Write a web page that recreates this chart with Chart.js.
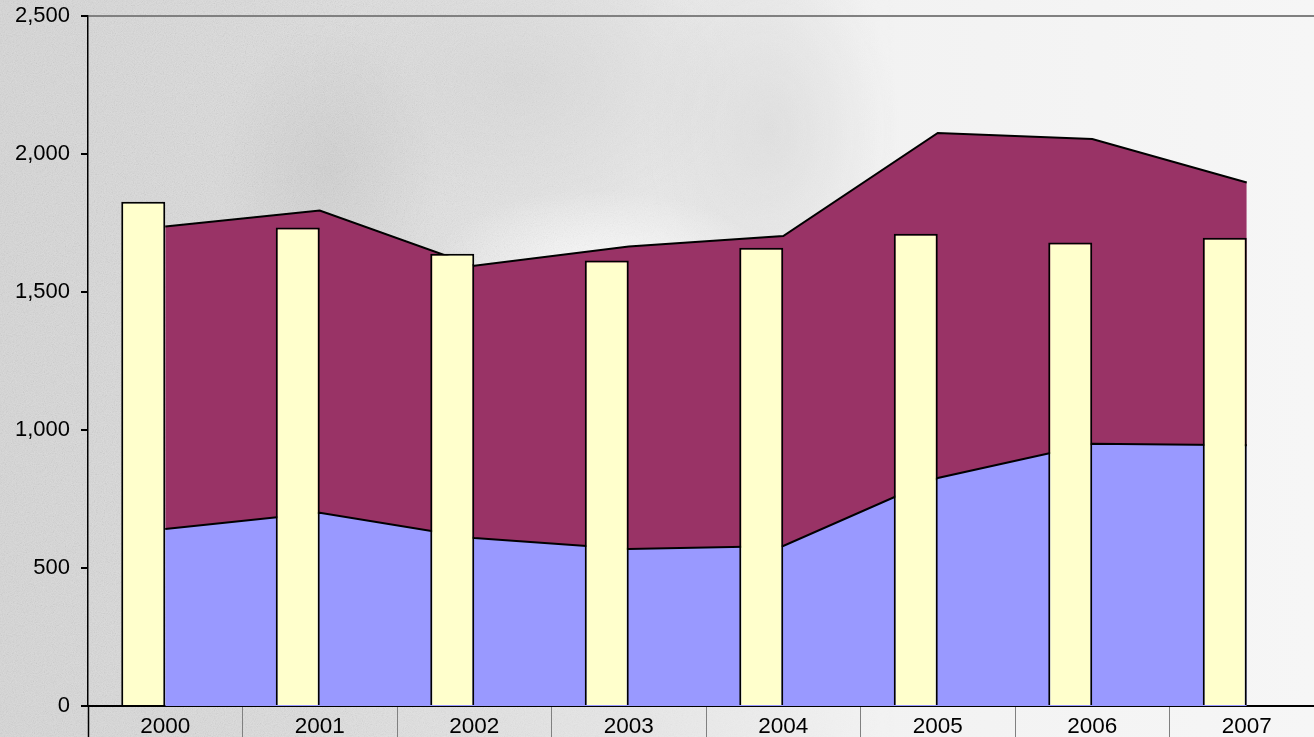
<!DOCTYPE html>
<html>
<head>
<meta charset="utf-8">
<script src="https://cdn.jsdelivr.net/npm/chart.js@4/dist/chart.umd.min.js"></script>
<style>
  html, body { margin: 0; padding: 0; overflow: hidden; }
  body {
    width: 1314px; height: 737px;
    background:
      radial-gradient(ellipse 170px 80px at 600px 270px, rgba(255,255,255,0.9), rgba(255,255,255,0)),
      radial-gradient(ellipse 110px 150px at 330px 170px, rgba(180,180,180,0.3), rgba(180,180,180,0)),
      radial-gradient(ellipse 220px 140px at 520px 80px, rgba(205,205,205,0.4), rgba(205,205,205,0)),
      radial-gradient(ellipse 130px 180px at 770px 130px, rgba(195,195,195,0.3), rgba(195,195,195,0)),
      linear-gradient(to right, #d8d8d8 0px, #dddddd 260px, #e7e7e7 620px, #f2f2f2 880px, #f6f6f6 1314px);
  }
  #grain {
    position: absolute; left: 0; top: 0; width: 900px; height: 737px;
    background-image: url("data:image/svg+xml;utf8,%3Csvg xmlns='http://www.w3.org/2000/svg' width='300' height='300'%3E%3Cfilter id='n'%3E%3CfeTurbulence type='fractalNoise' baseFrequency='0.9' numOctaves='2'/%3E%3CfeColorMatrix type='saturate' values='0'/%3E%3C/filter%3E%3Crect width='300' height='300' filter='url(%23n)' opacity='0.3'/%3E%3C/svg%3E");
    -webkit-mask-image: linear-gradient(to right, #000 0px, #000 300px, transparent 900px);
    mask-image: linear-gradient(to right, #000 0px, #000 300px, transparent 900px);
  }
  #wrap { position: absolute; left: 0; top: 0; width: 1324px; height: 737px; }
</style>
</head>
<body>
<div id="grain"></div>
<div id="wrap"><canvas id="chart"></canvas></div>
<script>
const years = ['2000', '2001', '2002', '2003', '2004', '2005', '2006', '2007'];
// yellow columns
const barValues = [1827, 1734, 1639, 1614, 1660, 1711, 1679, 1697];
// stacked areas: lower (blue) and upper (maroon) layers
const lowerArea = [641, 700, 609, 569, 580, 826, 950, 945];
const upperArea = [1096, 1095, 986, 1096, 1123, 1250, 1104, 952];
const yTicks = [0, 500, 1000, 1500, 2000, 2500];

const font = "'Liberation Sans', Arial, sans-serif";

new Chart(document.getElementById('chart'), {
  data: {
    labels: years,
    datasets: [
      {
        type: 'bar', data: barValues, stack: 'cols', order: 0,
        backgroundColor: '#FFFFCC', borderColor: '#000', borderWidth: 2
      },
      {
        // empty slot so the column sits left of the category centre
        type: 'bar', data: years.map(() => null), stack: 'gap', order: 0,
        backgroundColor: 'transparent', borderWidth: 0
      },
      {
        type: 'line', data: lowerArea, stack: 'area', order: 1,
        fill: 'origin', backgroundColor: '#9999FF',
        borderColor: '#000', borderWidth: 2, pointRadius: 0, tension: 0
      },
      {
        type: 'line', data: upperArea, stack: 'area', order: 1,
        fill: '-1', backgroundColor: '#993366',
        borderColor: '#000', borderWidth: 2, pointRadius: 0, tension: 0
      }
    ]
  },
  options: {
    responsive: true,
    maintainAspectRatio: false,
    animation: false,
    locale: 'en-US',
    categoryPercentage: 0.5696,
    barPercentage: 1,
    layout: { padding: { top: 16, right: 0, left: 0, bottom: 0 } },
    plugins: { legend: { display: false }, tooltip: { enabled: false } },
    scales: {
      x: {
        type: 'category',
        offset: true,
        z: 1,
        border: { color: '#000', width: 2 },
        grid: {
          offset: true,
          color: 'transparent',
          tickColor: ctx => ctx.index === 0 ? '#000' : '#808080',
          tickWidth: ctx => ctx.index === 0 ? 1.5 : 1,
          tickLength: 31
        },
        ticks: { color: '#000', font: { family: font, size: 22.5 }, padding: -24, maxRotation: 0 },
        afterFit: scale => { scale.height = 31; }
      },
      y: {
        stacked: true,
        min: 0,
        max: 2500,
        afterBuildTicks: scale => { scale.ticks = yTicks.map(v => ({ value: v })); },
        border: { color: '#000', width: 1.5 },
        grid: {
          color: ctx => ctx.tick && ctx.tick.value === 2500 ? '#808080' : 'transparent',
          lineWidth: 2,
          tickColor: '#000',
          tickLength: 7
        },
        ticks: { color: '#000', font: { family: font, size: 22 }, padding: 11 },
        afterFit: scale => {
          scale.width = 88;
          scale.paddingTop = 0;
          scale.paddingBottom = 0;
        }
      }
    }
  }
});
</script>
</body>
</html>
